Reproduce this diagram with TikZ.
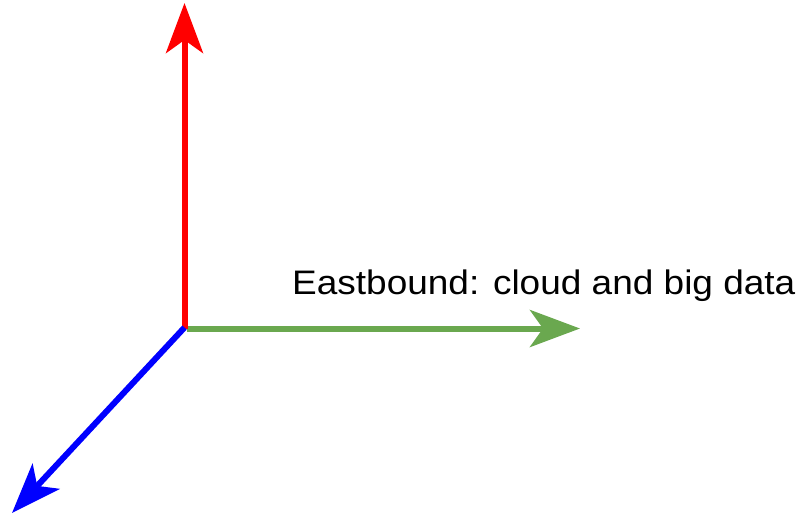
\documentclass[tikz,border=0pt]{standalone}
\usepackage{fontspec}
\setmainfont{Liberation Sans}
\usetikzlibrary{arrows.meta}
\begin{document}
\begin{tikzpicture}[x=1pt,y=-1pt,
  axis/.style={line width=6pt,-{Stealth[length=50pt,width=37pt,inset=13pt]}}]
\useasboundingbox (0,0) rectangle (801,515);
\definecolor{rd}{RGB}{255,0,0}
\definecolor{gr}{RGB}{106,168,79}
\definecolor{bl}{RGB}{0,0,255}
\coordinate (o) at (184.5,328.5);
\coordinate (up) at (184.5,3);
\coordinate (east) at (580,328.5);
\coordinate (sw) at (12,513);
\draw[axis,gr] ([xshift=2pt]o) -- (east);
\draw[axis,rd] ([yshift=0pt]o) -- (up);
\draw[axis,bl] ([yshift=1pt]o) -- (sw);
\node[anchor=base west,inner sep=0pt,font=\fontsize{34}{40}\selectfont] (lbl) at (292,294) {\scalebox{1.088}[1]{Eastbound: cloud and big data}};
\end{tikzpicture}
\end{document}
